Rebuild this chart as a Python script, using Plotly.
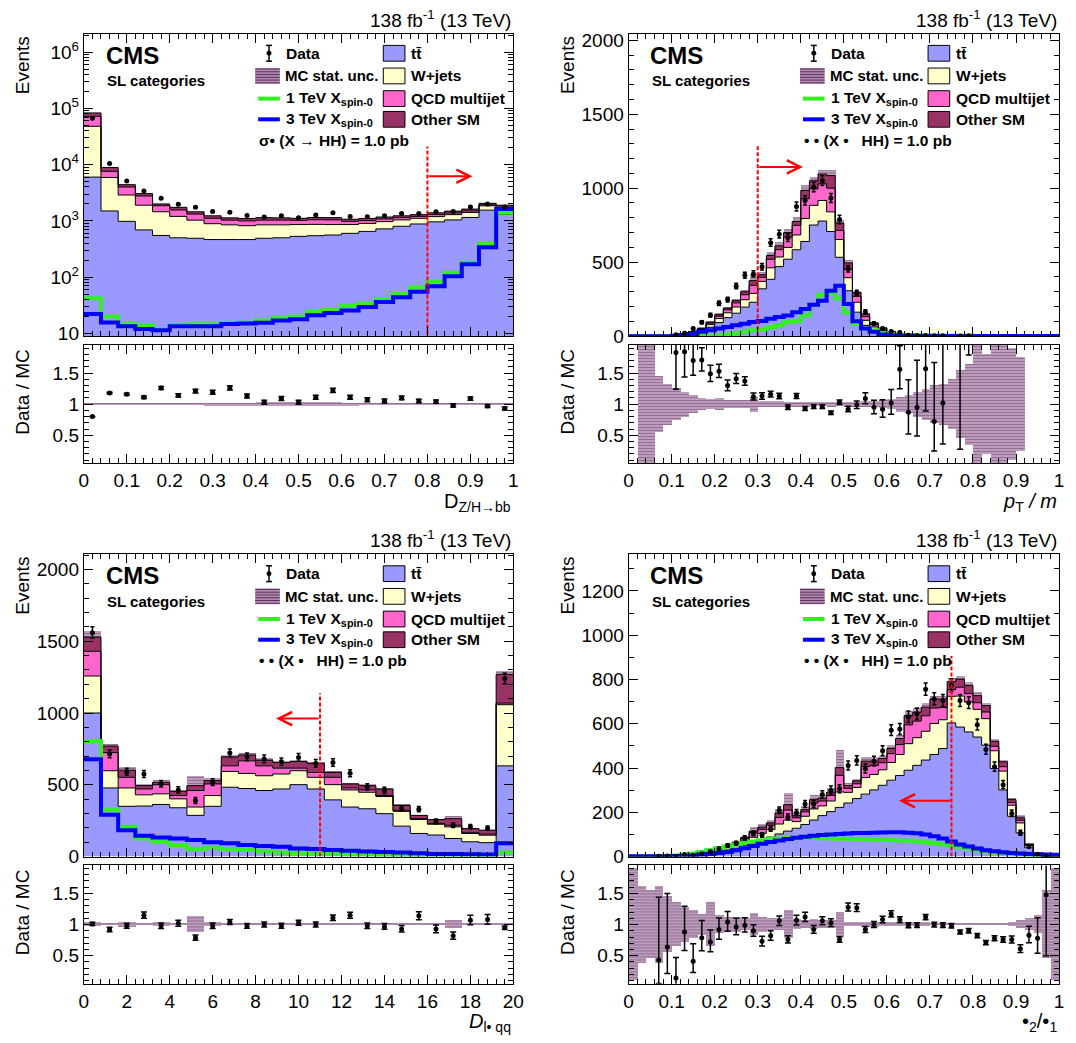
import math
import plotly.graph_objects as go

W, H = 1076, 1043
FONT = "Liberation Sans, Arial, Helvetica, sans-serif"

C_TT, C_WJ, C_QCD, C_OTH = "#9999FF", "#FFFFCC", "#FF66CC", "#993366"
C_SIG1, C_SIG3 = "#33EE22", "#0000FF"
C_HATCH = "#5e2c5e"

# ---------------- Panel A : D_Z/H->bb (25 bins, 0..1, log) ----------------
a_tt = [6000, 1500, 980, 690, 550, 500, 490, 465, 465, 465, 490, 500, 530, 545, 560,
        600, 650, 720, 800, 880, 960, 1040, 1150, 1550, 1300]
a_wjets = [42000, 4400, 1900, 1210, 900, 700, 540, 425, 385, 355, 360, 350, 330, 320, 300,
           260, 250, 250, 240, 230, 230, 250, 260, 300, 350]
a_qcd = [24000, 1700, 1120, 870, 410, 360, 290, 220, 180, 180, 180, 180, 160, 180, 180,
         120, 110, 110, 100, 90, 100, 90, 90, 80, 100]
a_other = [11000, 1300, 400, 280, 140, 180, 130, 120, 100, 100, 110, 100, 90, 100, 100,
           90, 90, 90, 90, 90, 100, 110, 120, 120, 150]
a_data = [66400, 10500, 5100, 3390, 2520, 1980, 1750, 1460, 1420, 1240, 1170, 1230, 1140, 1270, 1390,
          1190, 1180, 1230, 1350, 1350, 1450, 1460, 1770, 1990, 1770]
a_ratio = [0.80, 1.18, 1.16, 1.11, 1.26, 1.14, 1.21, 1.19, 1.26, 1.13, 1.03, 1.09, 1.03, 1.11, 1.22,
           1.11, 1.07, 1.05, 1.10, 1.05, 1.04, 0.98, 1.09, 0.97, 0.93]
a_unc = [0.015, 0.02, 0.02, 0.02, 0.02, 0.02, 0.02, 0.025, 0.025, 0.025, 0.03, 0.03, 0.03, 0.03, 0.03,
         0.025, 0.02, 0.02, 0.02, 0.02, 0.02, 0.02, 0.02, 0.015, 0.015]
a_sig1 = [42, 20, 14.5, 14, 12, 14, 14.5, 14.5, 15.5, 15.5, 17, 19, 20, 25, 26,
          31, 34, 41, 50, 66, 83, 120, 180, 390, 1400]
a_sig3 = [22, 15.6, 13.4, 12, 11.4, 13.4, 13.4, 13.4, 14.6, 15, 15.4, 17, 17.8, 21, 23,
          25.6, 29.4, 36, 44, 55, 69, 104, 169, 340, 1630]

# ---------------- Panel B : pT/m (50 bins, 0..1) ----------------
b_tt = [0, 0.3, 0.4, 0.7, 1.2, 2.5, 6, 18, 34, 60, 92, 125, 155, 196, 229, 320, 384, 470, 520, 584,
        640, 751, 778, 707, 533, 307, 162, 73, 40, 22, 12, 6, 2.5, 1.5, 1.1, 1.0, 0.7, 0.5, 0.15, 0.25,
        0.2, 0.15, 0.15, 0.1, 0.1, 0.07, 0, 0, 0, 0]
b_wjets = [0, 0.15, 0.2, 0.4, 0.6, 1.2, 2.5, 6, 11, 18, 27, 33, 42, 50, 60, 50, 78, 65, 80, 100,
           155, 133, 139, 133, 120, 88, 67, 34, 22, 14, 8, 4, 2, 1.2, 0.9, 0.8, 0.6, 0.4, 0.15, 0.25,
           0.15, 0.1, 0.12, 0.1, 0.1, 0.07, 0, 0, 0, 0]
b_qcd = [0, 0.1, 0.1, 0.25, 0.4, 0.8, 1.5, 3.5, 6, 10, 16, 20, 28, 34, 55, 28, 58, 50, 70, 65,
         134, 111, 112, 160, 62, 55, 40, 25, 16, 11, 6, 3.5, 1.4, 0.9, 0.7, 0.6, 0.4, 0.3, 0.1, 0.15,
         0.1, 0.1, 0.08, 0.06, 0.06, 0.04, 0, 0, 0, 0]
b_other = [0, 0.05, 0.1, 0.15, 0.3, 0.5, 1, 2.5, 4, 7, 10, 12, 15, 20, 31, 17, 25, 25, 30, 26,
           56, 55, 66, 85, 50, 45, 26, 18, 12, 8, 5, 2.5, 1, 0.6, 0.5, 0.4, 0.3, 0.2, 0.05, 0.1,
           0.05, 0.05, 0.05, 0.04, 0.04, 0.02, 0, 0, 0, 0]
b_data = [None, None, None, None, None, 9, 20, 51, 94, 142, 222, 247, 338, 411, 420, 469, 632, 689, 665, 876,
          916, 1008, 1051, 933, 788, 455, 292, 164, 86, 51, 32, 25, 6, 4, 5, 2, 2, None, 1, 3,
          None, None, None, None, None, None, None, None, None, None]
b_ratio = [None, None, None, None, None, 1.83, 1.84, 1.70, 1.71, 1.49, 1.53, 1.30, 1.41, 1.37, 1.12, 1.13, 1.16, 1.13, 0.95, 1.13,
           0.93, 0.96, 0.96, 0.86, 1.03, 0.92, 0.99, 1.09, 0.95, 0.92, 1.02, 1.56, 0.87, 0.95, 1.57, 0.72, 1.02, None, 2.2, 4.0,
           None, None, None, None, None, None, None, None, None, None]
b_unc = [None, 0.95, 0.95, 0.45, 0.33, 0.26, 0.2, 0.15, 0.1, 0.08, 0.1, 0.07, 0.06, 0.06, 0.12, 0.05, 0.05, 0.05, 0.04, 0.04,
         0.04, 0.03, 0.03, 0.04, 0.03, 0.04, 0.04, 0.05, 0.05, 0.06, 0.08, 0.12, 0.15, 0.2, 0.25, 0.3, 0.33, 0.4, 0.55, 0.65,
         0.95, 0.8, 0.95, 0.95, 0.9, 0.75, None, None, None, None]
b_sig1 = [0, 0, 0, 0, 0, 0, 1, 1, 2, 2, 3, 12, 18, 29, 40, 44, 58, 73, 95, 100,
          140, 210, 280, 290, 255, 160, 84, 51, 40, 22, 15, 10, 8, 6, 5, 4, 3, 3, 2, 2,
          1, 1, 1, 1, 1, 1, 1, 1, 1, 1]
b_sig3 = [0, 0, 0, 0, 0, 3, 8, 15, 29, 40, 51, 62, 73, 84, 95, 102, 118, 129, 140, 162,
          184, 213, 240, 307, 340, 218, 100, 51, 29, 11, 5, 3, 2, 1, 1, 1, 1, 1, 1, 1,
          1, 1, 1, 1, 1, 1, 1, 1, 1, 1]

# ---------------- Panel C : D_l->qq (25 bins, 0..20) ----------------
c_tt = [1000, 478, 350, 352, 363, 340, 287, 350, 483, 474, 460, 471, 501, 471, 395,
        345, 333, 299, 212, 161, 150, 126, 103, 97, 632]
c_wjets = [258, 120, 128, 78, 74, 62, 58, 75, 110, 105, 103, 104, 97, 81, 106,
           119, 115, 119, 103, 97, 75, 81, 58, 52, 426]
c_qcd = [172, 126, 74, 41, 64, 23, 115, 81, 39, 88, 69, 41, 18, 34, 51,
         14, 16, 7, 7, 6, 5, 11, 5, 7, 11]
c_other = [99, 46, 50, 23, 16, 30, 34, 23, 62, 41, 39, 39, 46, 62, 34,
           28, 30, 46, 34, 23, 28, 46, 29, 28, 200]
c_data = [1560, 715, 590, 575, 507, 464, 390, 518, 722, 694, 680, 660, 690, 650, 655,
          580, 485, 460, 335, 330, 245, 218, 208, 198, 1240]
c_ratio = [1.01, 0.92, 0.98, 1.15, 0.98, 1.02, 0.79, 0.98, 1.04, 0.98, 1.00, 0.98, 1.03, 1.00, 1.11,
           1.15, 0.98, 0.97, 0.93, 1.14, 0.93, 0.82, 1.07, 1.08, 0.95]
c_unc = [0.03, 0.02, 0.04, 0.02, 0.03, 0.02, 0.13, 0.03, 0.02, 0.02, 0.02, 0.02, 0.02, 0.02, 0.02,
         0.02, 0.02, 0.02, 0.02, 0.02, 0.02, 0.07, 0.02, 0.02, 0.02]
c_sig1 = [805, 326, 207, 126, 103, 80, 51, 62, 51, 46, 35, 28, 23, 18, 18,
          14, 12, 11, 9, 7, 7, 7, 7, 7, 28]
c_sig3 = [678, 292, 184, 145, 133, 126, 115, 99, 92, 80, 74, 69, 57, 53, 46,
          41, 35, 32, 28, 23, 18, 18, 16, 14, 92]

# ---------------- Panel D : tau2/tau1 (50 bins, 0..1) ----------------
d_tt = [0.5, 0.6, 0.8, 1.1, 1.5, 3, 5, 6, 9, 14, 22, 30, 38, 52, 62, 75, 88, 102, 115, 128,
        145, 165, 185, 203, 222, 242, 262, 282, 301, 322, 345, 366, 390, 412, 436, 461, 488, 604, 585, 563,
        540, 503, 398, 301, 182, 107, 40, 8, 0.8, 0.6]
d_wjets = [0.3, 0.3, 0.4, 0.7, 0.9, 2, 3, 3.5, 4.5, 7, 9, 10, 13, 18, 25, 30, 34, 45, 50, 30,
           37, 50, 44, 48, 70, 48, 50, 75, 70, 70, 80, 95, 120, 125, 130, 140, 130, 120, 140, 135,
           125, 120, 80, 85, 50, 45, 10, 3, 0.35, 0.25]
d_qcd = [0.1, 0.2, 0.2, 0.3, 0.4, 1.2, 1.2, 1.5, 2, 6, 4, 5, 7, 10, 20, 18, 20, 30, 45, 17,
         20, 27, 22, 25, 75, 18, 17, 50, 40, 32, 40, 45, 85, 75, 70, 70, 55, 30, 40, 38,
         30, 30, 20, 20, 12, 12, 3, 1, 0.1, 0.1]
d_other = [0.1, 0.1, 0.2, 0.2, 0.3, 0.8, 0.8, 1, 1.5, 3, 3, 3, 4, 5, 8, 10, 10, 20, 24, 10,
           10, 15, 13, 15, 35, 13, 13, 24, 20, 19, 23, 27, 42, 40, 39, 41, 39, 36, 36, 36,
           32, 29, 23, 22, 13, 11, 2, 1, 0.1, 0.05]
d_data = [None, None, None, 1, 2, 1, 9, 5, 13, 22, 35, 50, 60, 84, 104, 97, 125, 209, 178, 198,
          237, 236, 280, 300, 306, 411, 434, 397, 431, 478, 571, 576, 631, 645, 756, 712, 705, 774, 705, 695,
          596, 484, 406, 325, 195, 107, 46, 10, 2, None]
d_ratio = [None, None, None, 0.43, 0.64, 0.14, 0.88, 0.41, 0.79, 0.72, 0.92, 1.04, 0.96, 0.99, 0.90, 0.73, 0.82, 1.06, 0.76, 1.07,
           1.12, 0.92, 1.06, 1.03, 0.76, 1.28, 1.27, 0.92, 1.00, 1.08, 1.17, 1.08, 0.99, 0.99, 1.12, 1.00, 0.99, 0.98, 0.88, 0.90,
           0.82, 0.71, 0.78, 0.76, 0.76, 0.61, 0.83, 0.78, 1.48, None]
d_unc = [0.9, 0.62, 0.55, 0.62, 0.45, 0.35, 0.28, 0.22, 0.17, 0.35, 0.15, 0.12, 0.12, 0.1, 0.18, 0.12, 0.1, 0.1, 0.22, 0.08,
         0.07, 0.08, 0.06, 0.07, 0.2, 0.03, 0.03, 0.04, 0.04, 0.03, 0.03, 0.03, 0.03, 0.03, 0.03, 0.02, 0.02, 0.02, 0.02, 0.02,
         0.02, 0.02, 0.02, 0.02, 0.03, 0.07, 0.1, 0.15, 0.55, 0.9]
d_sig1 = [0, 0, 0, 1, 2, 4, 8, 14, 21, 29, 37, 45, 53, 61, 68, 74, 79, 82, 84, 85,
          85, 84, 83, 82, 81, 80, 79, 78, 77, 76, 75, 73, 71, 68, 65, 61, 56, 50, 43, 36,
          29, 23, 18, 14, 10, 8, 6, 4, 3, 2]
d_sig3 = [1, 1, 1, 1, 1, 2, 3, 5, 8, 12, 16, 21, 28, 38, 48, 58, 66, 73, 79, 85,
          90, 94, 97, 100, 102, 104, 106, 107, 108, 109, 110, 110, 108, 105, 100, 92, 82, 68, 55, 45,
          36, 29, 24, 20, 16, 14, 12, 10, 9, 8]

SIGTXT_A = "σ• (X → HH) = 1.0 pb"
SIGTXT = "• • (X •\u00a0\u00a0\u00a0HH) = 1.0 pb"

panels = [
    dict(tt=a_tt, wj=a_wjets, qcd=a_qcd, oth=a_other, data=a_data, ratio=a_ratio, unc=a_unc,
         s1=a_sig1, s3=a_sig3, lo=0.0, hi=1.0, log=True, yr=[0.95, 6.33],
         cut=0.8, cut_top=21000, arr_y=6200, arr_to=0.905,
         xdt=0.1, xminor=0.02, ydt=None, yminor=None,
         L=80, R=516, T=30, B=337, RT=346, RB=466, xt_off=40,
         xtitle="D<sub>Z/H→bb</sub>", sigtxt=SIGTXT_A),
    dict(tt=b_tt, wj=b_wjets, qcd=b_qcd, oth=b_other, data=b_data, ratio=b_ratio, unc=b_unc,
         s1=b_sig1, s3=b_sig3, lo=0.0, hi=1.0, log=False, yr=[0, 2045],
         cut=0.3, cut_top=1295, arr_y=1144, arr_to=0.405,
         xdt=0.1, xminor=0.02, ydt=500, yminor=100,
         L=633, R=1070, T=30, B=337, RT=346, RB=466, xt_off=40,
         xtitle="<i>p</i><sub>T</sub><i> / m</i>", sigtxt=SIGTXT),
    dict(tt=c_tt, wj=c_wjets, qcd=c_qcd, oth=c_other, data=c_data, ratio=c_ratio, unc=c_unc,
         s1=c_sig1, s3=c_sig3, lo=0.0, hi=20.0, log=False, yr=[0, 2108],
         cut=11.0, cut_top=1138, arr_y=961, arr_to=8.95,
         xdt=2, xminor=0.4, ydt=500, yminor=100,
         L=80, R=516, T=558, B=865, RT=874, RB=994, xt_off=39,
         xtitle="<i>D</i><sub>l• qq</sub>", sigtxt=SIGTXT),
    dict(tt=d_tt, wj=d_wjets, qcd=d_qcd, oth=d_other, data=d_data, ratio=d_ratio, unc=d_unc,
         s1=d_sig1, s3=d_sig3, lo=0.0, hi=1.0, log=False, yr=[0, 1367],
         cut=0.75, cut_top=906, arr_y=252, arr_to=0.628,
         xdt=0.1, xminor=0.02, ydt=200, yminor=100,
         L=633, R=1070, T=558, B=865, RT=874, RB=994, xt_off=39,
         xtitle="•<sub>2</sub>/•<sub>1</sub>", sigtxt=SIGTXT),
]


def px(x):
    return x / W


def py(y):
    return 1 - y / H


def poisson_err(n):
    up = math.sqrt(n + 0.75) + 1.0
    dn = math.sqrt(n - 0.25) if n >= 1 else n
    return up, dn


fig = go.Figure()
layout = {}
annotations = []
shapes = []
TICKFONT = dict(family=FONT, size=19, color="black")
PATTERN = dict(shape="-", fgcolor=C_HATCH, bgcolor="rgba(170,125,170,0.6)", size=3, solidity=0.55)

for i, p in enumerate(panels):
    nm, nr = 2 * i + 1, 2 * i + 2
    xm = "x" if nm == 1 else f"x{nm}"
    ym = "y" if nm == 1 else f"y{nm}"
    xr, yr_ = f"x{nr}", f"y{nr}"
    nb = len(p["tt"])
    lo, hi = p["lo"], p["hi"]
    bw = (hi - lo) / nb
    edges = [lo + k * bw for k in range(nb + 1)]
    centers = [lo + (k + 0.5) * bw for k in range(nb)]
    total = [a + b + c + d for a, b, c, d in zip(p["tt"], p["wj"], p["qcd"], p["oth"])]

    base = 1.0 if p["log"] else 0.0
    fig.add_trace(go.Scatter(x=edges, y=[base] * (nb + 1), mode="lines", line=dict(width=0),
                             xaxis=xm, yaxis=ym, showlegend=False, hoverinfo="skip"))
    cum = [0.0] * nb
    for comp, col in ((p["tt"], C_TT), (p["wj"], C_WJ), (p["qcd"], C_QCD), (p["oth"], C_OTH)):
        cum = [c + v for c, v in zip(cum, comp)]
        yv = [max(c, base) for c in cum]
        fig.add_trace(go.Scatter(x=edges, y=yv + [yv[-1]], mode="lines", line_shape="hv",
                                 line=dict(color="black", width=1), fill="tonexty", fillcolor=col,
                                 xaxis=xm, yaxis=ym, showlegend=False, hoverinfo="skip"))

    # MC stat unc band, main
    ub = [t * (1 - (u or 0)) for t, u in zip(total, p["unc"])]
    uh = [2 * t * (u or 0) for t, u in zip(total, p["unc"])]
    fig.add_trace(go.Bar(x=centers, y=uh, base=ub, width=bw, marker=dict(color="rgba(0,0,0,0)",
                         line=dict(width=0), pattern=PATTERN), xaxis=xm, yaxis=ym,
                         showlegend=False, hoverinfo="skip"))
    # signals
    for sig, col in ((p["s1"], C_SIG1), (p["s3"], C_SIG3)):
        sv = [max(s, base * 0.5) for s in sig]
        fig.add_trace(go.Scatter(x=edges, y=sv + [sv[-1]], mode="lines", line_shape="hv",
                                 line=dict(color=col, width=4), xaxis=xm, yaxis=ym,
                                 showlegend=False, hoverinfo="skip"))
    # data
    dx, dy, eu, ed = [], [], [], []
    for c, d in zip(centers, p["data"]):
        if d is None:
            continue
        u, dn = poisson_err(d)
        dx.append(c); dy.append(d); eu.append(u); ed.append(dn)
    fig.add_trace(go.Scatter(x=dx, y=dy, mode="markers", marker=dict(color="black", size=5),
                             error_y=dict(type="data", array=eu, arrayminus=ed, color="black",
                                          thickness=1.5, width=2),
                             xaxis=xm, yaxis=ym, showlegend=False, hoverinfo="skip"))
    # cut line
    fig.add_trace(go.Scatter(x=[p["cut"], p["cut"]], y=[base * 0.5 if p["log"] else 0, p["cut_top"]],
                             mode="lines", line=dict(color="#FF0000", width=2, dash="4px,2px"),
                             xaxis=xm, yaxis=ym, showlegend=False, hoverinfo="skip"))
    ay = math.log10(p["arr_y"]) if p["log"] else p["arr_y"]
    annotations.append(dict(x=p["arr_to"], y=ay, ax=p["cut"], ay=ay, xref=xm, yref=ym,
                            axref=xm, ayref=ym, showarrow=True, arrowhead=5, arrowsize=1.3,
                            arrowwidth=2, arrowcolor="#FF0000", text="", standoff=0))

    # ratio band
    rb = [1 - (u or 0) for u in p["unc"]]
    rh = [2 * (u or 0) for u in p["unc"]]
    fig.add_trace(go.Bar(x=centers, y=rh, base=rb, width=bw, marker=dict(color="rgba(0,0,0,0)",
                         line=dict(width=0), pattern=PATTERN), xaxis=xr, yaxis=yr_,
                         showlegend=False, hoverinfo="skip"))
    rx, ry, reu, red = [], [], [], []
    for c, r, d, t in zip(centers, p["ratio"], p["data"], total):
        if r is None or d is None or t <= 0:
            continue
        u, dn = poisson_err(d)
        rx.append(c); ry.append(r); reu.append(u / t); red.append(dn / t)
    fig.add_trace(go.Scatter(x=rx, y=ry, mode="markers", marker=dict(color="black", size=5),
                             error_y=dict(type="data", array=reu, arrayminus=red, color="black",
                                          thickness=1.5, width=3),
                             xaxis=xr, yaxis=yr_, showlegend=False, hoverinfo="skip", cliponaxis=True))

    # ---- axes ----
    xdom = [px(p["L"]), px(p["R"])]
    common_x = dict(domain=xdom, range=[lo, hi], showgrid=False, zeroline=False, showline=True,
                    linecolor="black", linewidth=1, mirror="allticks", ticks="inside", ticklen=9,
                    tickcolor="black", dtick=p["xdt"], tick0=lo,
                    minor=dict(ticks="inside", ticklen=5, dtick=p["xminor"], tick0=lo, tickcolor="black"))
    layout["xaxis" if nm == 1 else f"xaxis{nm}"] = dict(common_x, anchor=ym, showticklabels=False)
    layout[f"xaxis{nr}"] = dict(common_x, anchor=yr_, showticklabels=True, tickfont=TICKFONT)
    ymain = dict(domain=[py(p["B"]), py(p["T"])], anchor=xm, showgrid=False, zeroline=False,
                 showline=True, linecolor="black", linewidth=1, mirror="allticks", ticks="inside",
                 ticklen=9, tickcolor="black", tickfont=TICKFONT, range=p["yr"])
    if p["log"]:
        majors = [10 ** e for e in range(1, 7)]
        ymain.update(type="log", tickvals=majors,
                     ticktext=["10"] + [f"10<sup>{e}</sup>" for e in range(2, 7)],
                     minor=dict(ticks="inside", ticklen=5, tickcolor="black",
                                tickvals=[m * 10 ** e for e in range(0, 7) for m in range(2, 10)]))
    else:
        ymain.update(dtick=p["ydt"], tick0=0,
                     minor=dict(ticks="inside", ticklen=5, dtick=p["yminor"], tick0=0, tickcolor="black"))
    layout["yaxis" if nm == 1 else f"yaxis{nm}"] = ymain
    layout[f"yaxis{nr}"] = dict(domain=[py(p["RB"]), py(p["RT"])], anchor=xr, range=[0.05, 1.95],
                                showgrid=False, zeroline=False, showline=True, linecolor="black",
                                linewidth=1, mirror="allticks", ticks="inside", ticklen=9,
                                tickcolor="black", tickfont=TICKFONT, tickvals=[0.5, 1, 1.5],
                                ticktext=["0.5", "1", "1.5"],
                                minor=dict(ticks="inside", ticklen=5, dtick=0.1, tick0=0, tickcolor="black"))

    # ---- texts ----
    L, T, R = p["L"], p["T"], p["R"]

    def ann(text, x, y, size, xanchor="left", yanchor="middle", angle=0):
        annotations.append(dict(text=text, x=px(x), y=py(y), xref="paper", yref="paper",
                                xanchor=xanchor, yanchor=yanchor, showarrow=False, textangle=angle,
                                font=dict(family=FONT, size=size, color="black")))

    ann("138 fb<sup>-1</sup> (13 TeV)", R, T - 15, 19, xanchor="right")
    ann("Events", L - 62, T + 1, 19, xanchor="center", yanchor="top", angle=-90)
    ann("Data / MC", L - 62, p["RT"] + 2, 19, xanchor="center", yanchor="top", angle=-90)
    ann(p["xtitle"], R, p["RB"] + p["xt_off"], 20, xanchor="right")
    ann("<b>CMS</b>", L + 20, T + 22, 24)
    ann("<b>SL categories</b>", L + 22, T + 48, 15)

    rows = [T + 20, T + 43, T + 66, T + 87]
    ann("<b>Data</b>", L + 203, rows[0], 15.5)
    ann("<b>MC stat. unc.</b>", L + 202, rows[1], 15)
    ann("<b>1 TeV X<sub>spin-0</sub></b>", L + 203, rows[2], 15.5)
    ann("<b>3 TeV X<sub>spin-0</sub></b>", L + 203, rows[3], 15.5)
    ann("<b>" + p["sigtxt"] + "</b>", L + 176, T + 108, 15.5)
    for txt, col, ry0 in (("tt\u0304", C_TT, rows[0]), ("W+jets", C_WJ, rows[1]),
                          ("QCD multijet", C_QCD, rows[2]), ("Other SM", C_OTH, rows[3])):
        shapes.append(dict(type="rect", xref="paper", yref="paper", x0=px(L + 304), x1=px(L + 326),
                           y0=py(ry0 + 8), y1=py(ry0 - 8), fillcolor=col,
                           line=dict(color="black", width=1)))
        ann("<b>" + txt + "</b>", L + 330, ry0, 15.5)
    # data legend symbol
    cx, cy = L + 188, rows[0]
    shapes.append(dict(type="line", xref="paper", yref="paper", x0=px(cx), x1=px(cx),
                       y0=py(cy - 8), y1=py(cy + 8), line=dict(color="black", width=1.5)))
    for yy in (cy - 8, cy + 8):
        shapes.append(dict(type="line", xref="paper", yref="paper", x0=px(cx - 3), x1=px(cx + 3),
                           y0=py(yy), y1=py(yy), line=dict(color="black", width=1.5)))
    shapes.append(dict(type="circle", xref="paper", yref="paper", x0=px(cx - 2.5), x1=px(cx + 2.5),
                       y0=py(cy - 2.5), y1=py(cy + 2.5), fillcolor="black", line=dict(width=0)))
    # hatch legend swatch
    shapes.append(dict(type="rect", xref="paper", yref="paper", x0=px(L + 174), x1=px(L + 199),
                       y0=py(rows[1] + 8), y1=py(rows[1] - 8), fillcolor="#b08cb0", line=dict(width=0)))
    for k in range(6):
        yy = rows[1] - 7 + k * 2.8
        shapes.append(dict(type="line", xref="paper", yref="paper", x0=px(L + 174), x1=px(L + 199),
                           y0=py(yy), y1=py(yy), line=dict(color=C_HATCH, width=1)))
    for col, ry0 in ((C_SIG1, rows[2]), (C_SIG3, rows[3])):
        shapes.append(dict(type="line", xref="paper", yref="paper", x0=px(L + 177), x1=px(L + 199),
                           y0=py(ry0), y1=py(ry0), line=dict(color=col, width=4)))

fig.update_layout(width=W, height=H, margin=dict(l=0, r=0, t=0, b=0), paper_bgcolor="white",
                  plot_bgcolor="white", showlegend=False, bargap=0, annotations=annotations,
                  shapes=shapes, font=dict(family=FONT, color="black"), **layout)
fig.write_html("out.html")
